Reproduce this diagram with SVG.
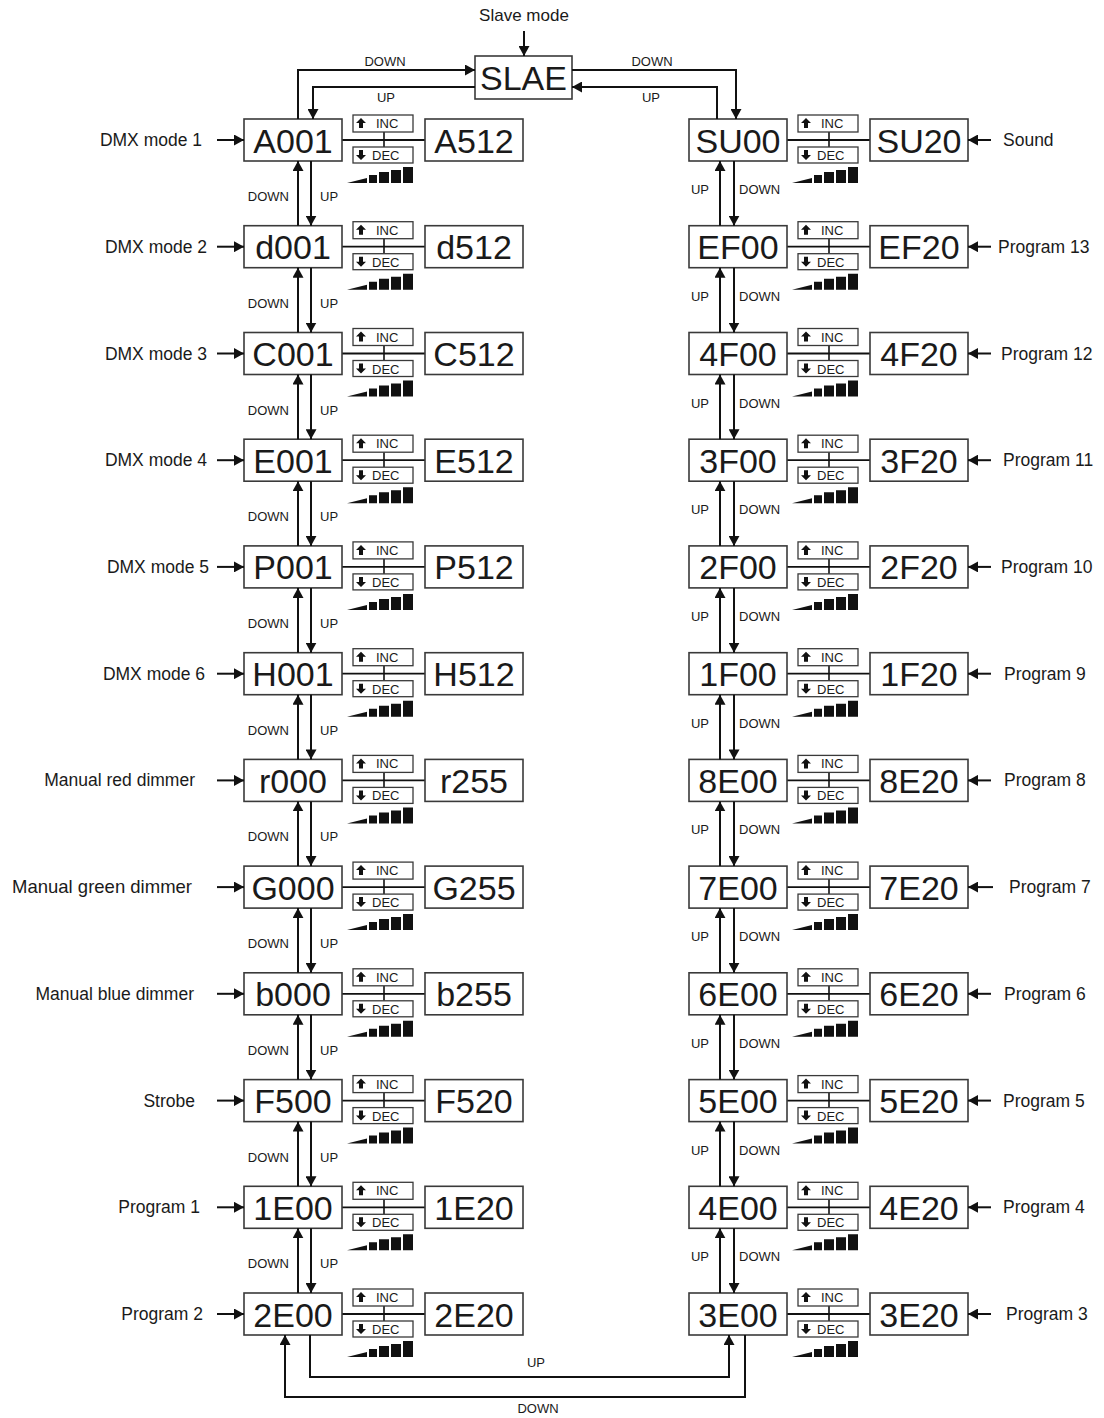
<svg xmlns="http://www.w3.org/2000/svg" xmlns:xlink="http://www.w3.org/1999/xlink" width="1104" height="1418" viewBox="0 0 1104 1418">
<style>
text{font-family:"Liberation Sans",Arial,sans-serif;fill:#1a1a1a}
.box{fill:#fff;stroke:#3a3a3a;stroke-width:1.6}
.big{font-size:34px;text-anchor:middle}
.lbl{font-size:17.5px}
.end{text-anchor:end}
.mid{text-anchor:middle}
.sm{font-size:13px}
.ln{stroke:#111;stroke-width:2;fill:none}
.ib{fill:#fff;stroke:#3a3a3a;stroke-width:1.3}
.fil{fill:#111}
</style>
<defs>
<marker id="ah" viewBox="0 0 10 11" refX="10" refY="5.5" markerWidth="10" markerHeight="11" markerUnits="userSpaceOnUse" orient="auto">
<path d="M0,0 L10,5.5 L0,11 z" fill="#111"/>
</marker>
<g id="ctl">
<line class="ln" x1="342" y1="0" x2="425" y2="0" style="stroke-width:1.8"/>
<line class="ln" x1="384" y1="-8" x2="384" y2="7" style="stroke-width:1.6"/>
<rect class="ib" x="353" y="-25" width="60" height="17"/>
<rect class="ib" x="353" y="7" width="60" height="16"/>
<path class="fil" d="M361,-22 l5,5 h-3 v5 h-4 v-5 h-3 z"/>
<text class="sm" x="376" y="-12">INC</text>
<path class="fil" d="M356,15 h3 v-5 h4 v5 h3 l-5,5 z"/>
<text class="sm" x="372" y="20">DEC</text>
<path class="fil" d="M347,43 L367,38 L367,43 z M369,35 h8 v8 h-8 z M379,32 h10 v11 h-10 z M391,30 h10 v13 h-10 z M403,27 h10 v16 h-10 z"/>
</g>
</defs>
<rect width="1104" height="1418" fill="#fff"/>

<!-- top -->
<text class="lbl mid" x="524" y="21" style="font-size:17px">Slave mode</text>
<g id="n-SLAE" transform="translate(475,56)"><rect class="box" width="97" height="43"/><text class="big" x="48.5" y="34">SLAE</text></g>

<!-- controls -->
<g id="controls">
<use xlink:href="#ctl" y="140"/><use xlink:href="#ctl" y="246.7"/><use xlink:href="#ctl" y="353.5"/><use xlink:href="#ctl" y="460.2"/>
<use xlink:href="#ctl" y="566.9"/><use xlink:href="#ctl" y="673.7"/><use xlink:href="#ctl" y="780.4"/><use xlink:href="#ctl" y="887.1"/>
<use xlink:href="#ctl" y="993.8"/><use xlink:href="#ctl" y="1100.6"/><use xlink:href="#ctl" y="1207.3"/><use xlink:href="#ctl" y="1314"/>
<use xlink:href="#ctl" x="445" y="140"/><use xlink:href="#ctl" x="445" y="246.7"/><use xlink:href="#ctl" x="445" y="353.5"/><use xlink:href="#ctl" x="445" y="460.2"/>
<use xlink:href="#ctl" x="445" y="566.9"/><use xlink:href="#ctl" x="445" y="673.7"/><use xlink:href="#ctl" x="445" y="780.4"/><use xlink:href="#ctl" x="445" y="887.1"/>
<use xlink:href="#ctl" x="445" y="993.8"/><use xlink:href="#ctl" x="445" y="1100.6"/><use xlink:href="#ctl" x="445" y="1207.3"/><use xlink:href="#ctl" x="445" y="1314"/>
</g>

<!-- left column nodes -->
<g id="n-A001" transform="translate(244,119)"><rect class="box" width="98" height="42"/><text class="big" x="49" y="33.5">A001</text></g>
<g id="n-A512" transform="translate(425,119)"><rect class="box" width="98" height="42"/><text class="big" x="49" y="33.5">A512</text></g>
<g id="n-d001" transform="translate(244,225.7)"><rect class="box" width="98" height="42"/><text class="big" x="49" y="33.5">d001</text></g>
<g id="n-d512" transform="translate(425,225.7)"><rect class="box" width="98" height="42"/><text class="big" x="49" y="33.5">d512</text></g>
<g id="n-C001" transform="translate(244,332.5)"><rect class="box" width="98" height="42"/><text class="big" x="49" y="33.5">C001</text></g>
<g id="n-C512" transform="translate(425,332.5)"><rect class="box" width="98" height="42"/><text class="big" x="49" y="33.5">C512</text></g>
<g id="n-E001" transform="translate(244,439.2)"><rect class="box" width="98" height="42"/><text class="big" x="49" y="33.5">E001</text></g>
<g id="n-E512" transform="translate(425,439.2)"><rect class="box" width="98" height="42"/><text class="big" x="49" y="33.5">E512</text></g>
<g id="n-P001" transform="translate(244,545.9)"><rect class="box" width="98" height="42"/><text class="big" x="49" y="33.5">P001</text></g>
<g id="n-P512" transform="translate(425,545.9)"><rect class="box" width="98" height="42"/><text class="big" x="49" y="33.5">P512</text></g>
<g id="n-H001" transform="translate(244,652.7)"><rect class="box" width="98" height="42"/><text class="big" x="49" y="33.5">H001</text></g>
<g id="n-H512" transform="translate(425,652.7)"><rect class="box" width="98" height="42"/><text class="big" x="49" y="33.5">H512</text></g>
<g id="n-r000" transform="translate(244,759.4)"><rect class="box" width="98" height="42"/><text class="big" x="49" y="33.5">r000</text></g>
<g id="n-r255" transform="translate(425,759.4)"><rect class="box" width="98" height="42"/><text class="big" x="49" y="33.5">r255</text></g>
<g id="n-G000" transform="translate(244,866.1)"><rect class="box" width="98" height="42"/><text class="big" x="49" y="33.5">G000</text></g>
<g id="n-G255" transform="translate(425,866.1)"><rect class="box" width="98" height="42"/><text class="big" x="49" y="33.5">G255</text></g>
<g id="n-b000" transform="translate(244,972.8)"><rect class="box" width="98" height="42"/><text class="big" x="49" y="33.5">b000</text></g>
<g id="n-b255" transform="translate(425,972.8)"><rect class="box" width="98" height="42"/><text class="big" x="49" y="33.5">b255</text></g>
<g id="n-F500" transform="translate(244,1079.6)"><rect class="box" width="98" height="42"/><text class="big" x="49" y="33.5">F500</text></g>
<g id="n-F520" transform="translate(425,1079.6)"><rect class="box" width="98" height="42"/><text class="big" x="49" y="33.5">F520</text></g>
<g id="n-1E00" transform="translate(244,1186.3)"><rect class="box" width="98" height="42"/><text class="big" x="49" y="33.5">1E00</text></g>
<g id="n-1E20" transform="translate(425,1186.3)"><rect class="box" width="98" height="42"/><text class="big" x="49" y="33.5">1E20</text></g>
<g id="n-2E00" transform="translate(244,1293)"><rect class="box" width="98" height="42"/><text class="big" x="49" y="33.5">2E00</text></g>
<g id="n-2E20" transform="translate(425,1293)"><rect class="box" width="98" height="42"/><text class="big" x="49" y="33.5">2E20</text></g>

<!-- right column nodes -->
<g id="n-SU00" transform="translate(689,119)"><rect class="box" width="98" height="42"/><text class="big" x="49" y="33.5">SU00</text></g>
<g id="n-SU20" transform="translate(870,119)"><rect class="box" width="98" height="42"/><text class="big" x="49" y="33.5">SU20</text></g>
<g id="n-EF00" transform="translate(689,225.7)"><rect class="box" width="98" height="42"/><text class="big" x="49" y="33.5">EF00</text></g>
<g id="n-EF20" transform="translate(870,225.7)"><rect class="box" width="98" height="42"/><text class="big" x="49" y="33.5">EF20</text></g>
<g id="n-4F00" transform="translate(689,332.5)"><rect class="box" width="98" height="42"/><text class="big" x="49" y="33.5">4F00</text></g>
<g id="n-4F20" transform="translate(870,332.5)"><rect class="box" width="98" height="42"/><text class="big" x="49" y="33.5">4F20</text></g>
<g id="n-3F00" transform="translate(689,439.2)"><rect class="box" width="98" height="42"/><text class="big" x="49" y="33.5">3F00</text></g>
<g id="n-3F20" transform="translate(870,439.2)"><rect class="box" width="98" height="42"/><text class="big" x="49" y="33.5">3F20</text></g>
<g id="n-2F00" transform="translate(689,545.9)"><rect class="box" width="98" height="42"/><text class="big" x="49" y="33.5">2F00</text></g>
<g id="n-2F20" transform="translate(870,545.9)"><rect class="box" width="98" height="42"/><text class="big" x="49" y="33.5">2F20</text></g>
<g id="n-1F00" transform="translate(689,652.7)"><rect class="box" width="98" height="42"/><text class="big" x="49" y="33.5">1F00</text></g>
<g id="n-1F20" transform="translate(870,652.7)"><rect class="box" width="98" height="42"/><text class="big" x="49" y="33.5">1F20</text></g>
<g id="n-8E00" transform="translate(689,759.4)"><rect class="box" width="98" height="42"/><text class="big" x="49" y="33.5">8E00</text></g>
<g id="n-8E20" transform="translate(870,759.4)"><rect class="box" width="98" height="42"/><text class="big" x="49" y="33.5">8E20</text></g>
<g id="n-7E00" transform="translate(689,866.1)"><rect class="box" width="98" height="42"/><text class="big" x="49" y="33.5">7E00</text></g>
<g id="n-7E20" transform="translate(870,866.1)"><rect class="box" width="98" height="42"/><text class="big" x="49" y="33.5">7E20</text></g>
<g id="n-6E00" transform="translate(689,972.8)"><rect class="box" width="98" height="42"/><text class="big" x="49" y="33.5">6E00</text></g>
<g id="n-6E20" transform="translate(870,972.8)"><rect class="box" width="98" height="42"/><text class="big" x="49" y="33.5">6E20</text></g>
<g id="n-5E00" transform="translate(689,1079.6)"><rect class="box" width="98" height="42"/><text class="big" x="49" y="33.5">5E00</text></g>
<g id="n-5E20" transform="translate(870,1079.6)"><rect class="box" width="98" height="42"/><text class="big" x="49" y="33.5">5E20</text></g>
<g id="n-4E00" transform="translate(689,1186.3)"><rect class="box" width="98" height="42"/><text class="big" x="49" y="33.5">4E00</text></g>
<g id="n-4E20" transform="translate(870,1186.3)"><rect class="box" width="98" height="42"/><text class="big" x="49" y="33.5">4E20</text></g>
<g id="n-3E00" transform="translate(689,1293)"><rect class="box" width="98" height="42"/><text class="big" x="49" y="33.5">3E00</text></g>
<g id="n-3E20" transform="translate(870,1293)"><rect class="box" width="98" height="42"/><text class="big" x="49" y="33.5">3E20</text></g>

<!-- input labels -->
<g id="inputs-left">
<text class="lbl end" x="202" y="146">DMX mode 1</text>
<text class="lbl end" x="207" y="252.7">DMX mode 2</text>
<text class="lbl end" x="207" y="359.5">DMX mode 3</text>
<text class="lbl end" x="207" y="466.2">DMX mode 4</text>
<text class="lbl end" x="209" y="572.9">DMX mode 5</text>
<text class="lbl end" x="205" y="679.7">DMX mode 6</text>
<text class="lbl end" x="195" y="786.4">Manual red dimmer</text>
<text class="lbl end" x="192" y="893.1" style="font-size:18.5px">Manual green dimmer</text>
<text class="lbl end" x="194" y="999.8">Manual blue dimmer</text>
<text class="lbl end" x="195" y="1106.6">Strobe</text>
<text class="lbl end" x="200" y="1213.3">Program 1</text>
<text class="lbl end" x="203" y="1320">Program 2</text>
</g>
<g id="inputs-right">
<text class="lbl" x="1003" y="146">Sound</text>
<text class="lbl" x="998" y="252.7">Program 13</text>
<text class="lbl" x="1001" y="359.5">Program 12</text>
<text class="lbl" x="1003" y="466.2">Program 11</text>
<text class="lbl" x="1001" y="572.9">Program 10</text>
<text class="lbl" x="1004" y="679.7">Program 9</text>
<text class="lbl" x="1004" y="786.4">Program 8</text>
<text class="lbl" x="1009" y="893.1">Program 7</text>
<text class="lbl" x="1004" y="999.8">Program 6</text>
<text class="lbl" x="1003" y="1106.6">Program 5</text>
<text class="lbl" x="1003" y="1213.3">Program 4</text>
<text class="lbl" x="1006" y="1320">Program 3</text>
</g>

<!-- connector labels -->
<g id="connector-labels">
<text class="sm mid" x="385" y="66">DOWN</text>
<text class="sm mid" x="386" y="102">UP</text>
<text class="sm mid" x="652" y="66">DOWN</text>
<text class="sm mid" x="651" y="102">UP</text>
<text class="sm mid" x="536" y="1367">UP</text>
<text class="sm mid" x="538" y="1413">DOWN</text>
<text class="sm end" x="289" y="201">DOWN</text><text class="sm" x="320" y="201">UP</text>
<text class="sm end" x="289" y="307.7">DOWN</text><text class="sm" x="320" y="307.7">UP</text>
<text class="sm end" x="289" y="414.5">DOWN</text><text class="sm" x="320" y="414.5">UP</text>
<text class="sm end" x="289" y="521.2">DOWN</text><text class="sm" x="320" y="521.2">UP</text>
<text class="sm end" x="289" y="627.9">DOWN</text><text class="sm" x="320" y="627.9">UP</text>
<text class="sm end" x="289" y="734.7">DOWN</text><text class="sm" x="320" y="734.7">UP</text>
<text class="sm end" x="289" y="841.4">DOWN</text><text class="sm" x="320" y="841.4">UP</text>
<text class="sm end" x="289" y="948.1">DOWN</text><text class="sm" x="320" y="948.1">UP</text>
<text class="sm end" x="289" y="1054.8">DOWN</text><text class="sm" x="320" y="1054.8">UP</text>
<text class="sm end" x="289" y="1161.6">DOWN</text><text class="sm" x="320" y="1161.6">UP</text>
<text class="sm end" x="289" y="1268.3">DOWN</text><text class="sm" x="320" y="1268.3">UP</text>
<text class="sm end" x="709" y="194">UP</text><text class="sm" x="739" y="194">DOWN</text>
<text class="sm end" x="709" y="300.7">UP</text><text class="sm" x="739" y="300.7">DOWN</text>
<text class="sm end" x="709" y="407.5">UP</text><text class="sm" x="739" y="407.5">DOWN</text>
<text class="sm end" x="709" y="514.2">UP</text><text class="sm" x="739" y="514.2">DOWN</text>
<text class="sm end" x="709" y="620.9">UP</text><text class="sm" x="739" y="620.9">DOWN</text>
<text class="sm end" x="709" y="727.7">UP</text><text class="sm" x="739" y="727.7">DOWN</text>
<text class="sm end" x="709" y="834.4">UP</text><text class="sm" x="739" y="834.4">DOWN</text>
<text class="sm end" x="709" y="941.1">UP</text><text class="sm" x="739" y="941.1">DOWN</text>
<text class="sm end" x="709" y="1047.8">UP</text><text class="sm" x="739" y="1047.8">DOWN</text>
<text class="sm end" x="709" y="1154.6">UP</text><text class="sm" x="739" y="1154.6">DOWN</text>
<text class="sm end" x="709" y="1261.3">UP</text><text class="sm" x="739" y="1261.3">DOWN</text>
</g>

<!-- connectors -->
<g id="connectors">
<path class="ln" marker-end="url(#ah)" d="M524,31 V56"/>
<path class="ln" marker-end="url(#ah)" d="M298,119 V70 H475"/>
<path class="ln" marker-end="url(#ah)" d="M475,87 H313 V119"/>
<path class="ln" marker-end="url(#ah)" d="M572,70 H736 V119"/>
<path class="ln" marker-end="url(#ah)" d="M717,119 V87 H572"/>
<path class="ln" marker-end="url(#ah)" d="M310,1335 V1377 H729 V1335"/>
<path class="ln" marker-end="url(#ah)" d="M745,1335 V1397 H285 V1335"/>
<path class="ln" marker-end="url(#ah)" d="M217,140 H244"/>
<path class="ln" marker-end="url(#ah)" d="M217,246.7 H244"/>
<path class="ln" marker-end="url(#ah)" d="M217,353.5 H244"/>
<path class="ln" marker-end="url(#ah)" d="M217,460.2 H244"/>
<path class="ln" marker-end="url(#ah)" d="M217,566.9 H244"/>
<path class="ln" marker-end="url(#ah)" d="M217,673.7 H244"/>
<path class="ln" marker-end="url(#ah)" d="M217,780.4 H244"/>
<path class="ln" marker-end="url(#ah)" d="M217,887.1 H244"/>
<path class="ln" marker-end="url(#ah)" d="M217,993.8 H244"/>
<path class="ln" marker-end="url(#ah)" d="M217,1100.6 H244"/>
<path class="ln" marker-end="url(#ah)" d="M217,1207.3 H244"/>
<path class="ln" marker-end="url(#ah)" d="M217,1314 H244"/>
<path class="ln" marker-end="url(#ah)" d="M991,140 H968"/>
<path class="ln" marker-end="url(#ah)" d="M991,246.7 H968"/>
<path class="ln" marker-end="url(#ah)" d="M991,353.5 H968"/>
<path class="ln" marker-end="url(#ah)" d="M991,460.2 H968"/>
<path class="ln" marker-end="url(#ah)" d="M991,566.9 H968"/>
<path class="ln" marker-end="url(#ah)" d="M991,673.7 H968"/>
<path class="ln" marker-end="url(#ah)" d="M991,780.4 H968"/>
<path class="ln" marker-end="url(#ah)" d="M993,887.1 H968"/>
<path class="ln" marker-end="url(#ah)" d="M991,993.8 H968"/>
<path class="ln" marker-end="url(#ah)" d="M991,1100.6 H968"/>
<path class="ln" marker-end="url(#ah)" d="M991,1207.3 H968"/>
<path class="ln" marker-end="url(#ah)" d="M991,1314 H968"/>
<path class="ln" marker-end="url(#ah)" d="M298,225.7 V161"/><path class="ln" marker-end="url(#ah)" d="M311,161 V225.7"/>
<path class="ln" marker-end="url(#ah)" d="M298,332.5 V267.7"/><path class="ln" marker-end="url(#ah)" d="M311,267.7 V332.5"/>
<path class="ln" marker-end="url(#ah)" d="M298,439.2 V374.5"/><path class="ln" marker-end="url(#ah)" d="M311,374.5 V439.2"/>
<path class="ln" marker-end="url(#ah)" d="M298,545.9 V481.2"/><path class="ln" marker-end="url(#ah)" d="M311,481.2 V545.9"/>
<path class="ln" marker-end="url(#ah)" d="M298,652.7 V587.9"/><path class="ln" marker-end="url(#ah)" d="M311,587.9 V652.7"/>
<path class="ln" marker-end="url(#ah)" d="M298,759.4 V694.7"/><path class="ln" marker-end="url(#ah)" d="M311,694.7 V759.4"/>
<path class="ln" marker-end="url(#ah)" d="M298,866.1 V801.4"/><path class="ln" marker-end="url(#ah)" d="M311,801.4 V866.1"/>
<path class="ln" marker-end="url(#ah)" d="M298,972.8 V908.1"/><path class="ln" marker-end="url(#ah)" d="M311,908.1 V972.8"/>
<path class="ln" marker-end="url(#ah)" d="M298,1079.6 V1014.8"/><path class="ln" marker-end="url(#ah)" d="M311,1014.8 V1079.6"/>
<path class="ln" marker-end="url(#ah)" d="M298,1186.3 V1121.6"/><path class="ln" marker-end="url(#ah)" d="M311,1121.6 V1186.3"/>
<path class="ln" marker-end="url(#ah)" d="M298,1293 V1228.3"/><path class="ln" marker-end="url(#ah)" d="M311,1228.3 V1293"/>
<path class="ln" marker-end="url(#ah)" d="M720,225.7 V161"/><path class="ln" marker-end="url(#ah)" d="M734,161 V225.7"/>
<path class="ln" marker-end="url(#ah)" d="M720,332.5 V267.7"/><path class="ln" marker-end="url(#ah)" d="M734,267.7 V332.5"/>
<path class="ln" marker-end="url(#ah)" d="M720,439.2 V374.5"/><path class="ln" marker-end="url(#ah)" d="M734,374.5 V439.2"/>
<path class="ln" marker-end="url(#ah)" d="M720,545.9 V481.2"/><path class="ln" marker-end="url(#ah)" d="M734,481.2 V545.9"/>
<path class="ln" marker-end="url(#ah)" d="M720,652.7 V587.9"/><path class="ln" marker-end="url(#ah)" d="M734,587.9 V652.7"/>
<path class="ln" marker-end="url(#ah)" d="M720,759.4 V694.7"/><path class="ln" marker-end="url(#ah)" d="M734,694.7 V759.4"/>
<path class="ln" marker-end="url(#ah)" d="M720,866.1 V801.4"/><path class="ln" marker-end="url(#ah)" d="M734,801.4 V866.1"/>
<path class="ln" marker-end="url(#ah)" d="M720,972.8 V908.1"/><path class="ln" marker-end="url(#ah)" d="M734,908.1 V972.8"/>
<path class="ln" marker-end="url(#ah)" d="M720,1079.6 V1014.8"/><path class="ln" marker-end="url(#ah)" d="M734,1014.8 V1079.6"/>
<path class="ln" marker-end="url(#ah)" d="M720,1186.3 V1121.6"/><path class="ln" marker-end="url(#ah)" d="M734,1121.6 V1186.3"/>
<path class="ln" marker-end="url(#ah)" d="M720,1293 V1228.3"/><path class="ln" marker-end="url(#ah)" d="M734,1228.3 V1293"/>
</g>
</svg>
